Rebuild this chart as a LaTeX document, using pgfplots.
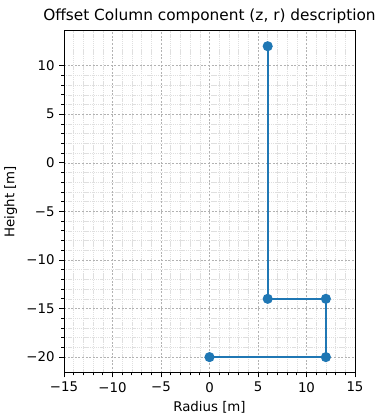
\documentclass[border=0pt]{standalone}
\usepackage{pgfplots}
\pgfplotsset{compat=1.18}
\usepackage{fontspec}
\setmainfont{DejaVu Sans}
\definecolor{mplblue}{HTML}{1F77B4}
\begin{document}
\begin{tikzpicture}
\begin{axis}[
  scale only axis,
  width=218.25pt, height=256.5pt,
  xmin=-15, xmax=15, ymin=-21.6, ymax=13.6,
  xtick={-15,-10,...,15}, ytick={-20,-15,...,10},
  minor x tick num=4, minor y tick num=4,
  grid=both,
  major grid style={gray!60, dash pattern=on 1.5pt off 1.2pt, line width=0.4pt},
  minor grid style={gray!25, dash pattern=on 1pt off 0.6pt, line width=0.4pt},
  tick align=outside, tick pos=left,
  major tick length=3.6pt, minor tick length=2pt,
  every tick/.style={black, line width=0.6pt},
  axis line style={line width=0.6pt},
  ticklabel style={font=\fontsize{10}{12}\selectfont},
  label style={font=\fontsize{10}{12}\selectfont},
  title style={font=\fontsize{11.5}{14}\selectfont, yshift=-4pt},
  title={Offset Column component (z, r) description},
  xlabel={Radius [m]}, ylabel={Height [m]},
  yticklabel={\ifdim\tick pt<0pt −\pgfmathparse{-\tick}\pgfmathprintnumber[assume math mode=true]{\pgfmathresult}\else\pgfmathprintnumber[assume math mode=true]{\tick}\fi},
  xticklabel={\ifdim\tick pt<0pt −\pgfmathparse{-\tick}\pgfmathprintnumber[assume math mode=true]{\pgfmathresult}\else\pgfmathprintnumber[assume math mode=true]{\tick}\fi},
]
\addplot[mplblue, line width=1.5pt, mark=*, mark size=3pt, mark options={fill=mplblue, draw=mplblue}] coordinates {
(0,-20) (12,-20) (12,-14) (6,-14) (6,12)
};
\end{axis}
\pgfresetboundingbox
\path ([shift={(-48pt,-31pt)}]current axis.south west) rectangle ([shift={(16.5pt,23pt)}]current axis.north east);
\end{tikzpicture}
\end{document}
